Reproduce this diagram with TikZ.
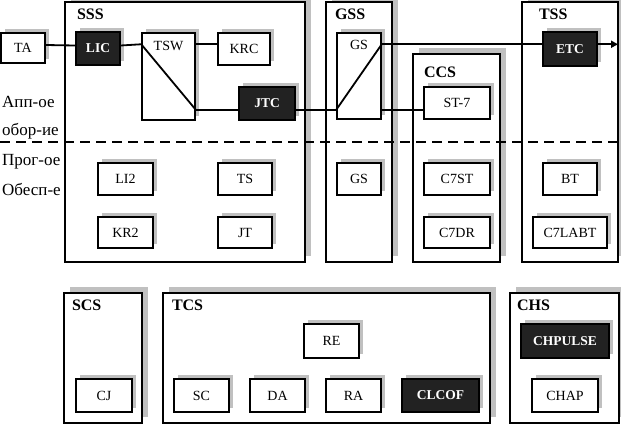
\documentclass[tikz,border=0pt]{standalone}
\usepackage{fontspec}
\setmainfont{Liberation Serif}
\usetikzlibrary{shadows,arrows.meta}
\definecolor{shd}{HTML}{C0C0C0}
\definecolor{blk}{HTML}{222222}
\begin{document}
\begin{tikzpicture}[x=1pt,y=-1pt,
 sz/.style 2 args={minimum width=#1pt, minimum height=#2pt},
 grp/.style={draw=black, line width=2.4pt, fill=white, inner sep=0pt, general shadow={fill=shd, shadow xshift=6pt, shadow yshift=6pt}},
 item/.style={draw=black, line width=1.5pt, fill=white, inner sep=0pt, text depth=0pt, font=\fontsize{14}{16}\selectfont, general shadow={fill=shd, shadow xshift=4pt, shadow yshift=4pt}},
 dark/.style={item, fill=blk, text=white, font=\bfseries\fontsize{13.5}{16}\selectfont},
 title/.style={anchor=north west, inner sep=0pt, text depth=0pt, font=\bfseries\fontsize{16}{18}\selectfont},
 side/.style={anchor=base west, inner sep=0pt, font=\fontsize{17}{19}\selectfont},
 toplbl/.style={anchor=center, inner sep=0pt, text depth=0pt, font=\fontsize{14}{16}\selectfont},
 wire/.style={line width=1.8pt},
]
\useasboundingbox (0,0) rectangle (621,424);
% group boxes
\node[grp, sz={240}{260}] (SSS) at (185,132) {};
\node[grp, sz={66}{260}] (GSS) at (359,132) {};
\node[grp, sz={87}{208}] (CCS) at (456.5,158) {};
\node[grp, sz={96}{260}] (TSS) at (570,132) {};
\node[grp, sz={78}{130}] (SCS) at (103,358) {};
\node[grp, sz={327}{130}] (TCS) at (326.5,358) {};
\node[grp, sz={109}{130}] (CHS) at (564.5,358) {};
% titles
\node[title] (tSSS) at ([xshift=13pt,yshift=-8pt]SSS.north west) {SSS};
\node[title] (tGSS) at ([xshift=10pt,yshift=-8pt]GSS.north west) {GSS};
\node[title] (tCCS) at ([xshift=12pt,yshift=-14pt]CCS.north west) {CCS};
\node[title] (tTSS) at ([xshift=18pt,yshift=-8pt]TSS.north west) {TSS};
\node[title] (tSCS) at ([xshift=9pt,yshift=-8pt]SCS.north west) {SCS};
\node[title] (tTCS) at ([xshift=10pt,yshift=-8pt]TCS.north west) {TCS};
\node[title] (tCHS) at ([xshift=8pt,yshift=-8pt]CHS.north west) {CHS};
% dashed divider
\coordinate (dl) at (0,142);
\coordinate (dr) at (621,142);
\draw[line width=1.5pt, dash pattern=on 10pt off 6pt] (dl) -- (dr);
% side labels
\node[side] (s1) at (2,107) {Апп-ое};
\node[side] (s2) at (2,135) {обор-ие};
\node[side] (s3) at (2,165) {Прог-ое};
\node[side] (s4) at (2,195) {Обесп-е};
% items
\node[item, sz={44}{30}] (TA) at (23,48) {TA};
\node[dark, sz={44}{33}] (LIC) at (98,48.5) {LIC};
\node[item, sz={53}{87}, label={[toplbl, yshift=-13.5pt]north:TSW}] (TSW) at (168.5,76.5) {};
\node[item, sz={52}{32}] (KRC) at (244,49) {KRC};
\node[dark, sz={56}{33}] (JTC) at (267,103.5) {JTC};
\node[item, sz={44}{86}, label={[toplbl, yshift=-13pt]north:GS}] (GSup) at (359,76) {};
\node[item, sz={66}{32}] (ST7) at (457,103) {ST-7};
\node[dark, sz={54}{34}] (ETC) at (570,49) {ETC};
\node[item, sz={55}{32}] (LI2) at (125.5,179) {LI2};
\node[item, sz={54}{32}] (TS) at (245,179) {TS};
\node[item, sz={55}{31}] (KR2) at (125.5,232.5) {KR2};
\node[item, sz={54}{31}] (JT) at (245,232.5) {JT};
\node[item, sz={44}{32}] (GSlo) at (359,179) {GS};
\node[item, sz={66}{32}] (C7ST) at (457,179) {C7ST};
\node[item, sz={66}{31}] (C7DR) at (457,232.5) {C7DR};
\node[item, sz={54}{32}] (BT) at (570,179) {BT};
\node[item, sz={74}{31}] (C7LABT) at (570,232.5) {C7LABT};
\node[item, sz={56}{33}] (CJ) at (104,395.5) {CJ};
\node[item, sz={55}{34}] (RE) at (331.5,341) {RE};
\node[item, sz={55}{33}] (SC) at (201.5,395.5) {SC};
\node[item, sz={55}{33}] (DA) at (277.5,395.5) {DA};
\node[item, sz={55}{33}] (RA) at (353.5,395.5) {RA};
\node[dark, sz={77}{33}] (CLCOF) at (440.5,395.5) {CLCOF};
\node[dark, sz={88}{34}] (CHPULSE) at (565,341) {CHPULSE};
\node[item, sz={66}{33}] (CHAP) at (565,395.5) {CHAP};
% connectors
\coordinate (tin) at ([yshift=-12pt]TSW.north west);
\coordinate (tout) at ([yshift=11pt]TSW.south east);
\coordinate (gin) at ([yshift=10pt]GSup.south west);
\coordinate (gout) at ([yshift=-12pt]GSup.north east);
\coordinate (aend) at (618,0);
\draw[wire] ([yshift=3pt]TA.east) -- ([yshift=3pt]LIC.west);
\draw[wire] ([yshift=3pt]LIC.east) -- (tin);
\draw[wire] (tin) -- (tout);
\draw[wire] (tin -| TSW.east) -- (tin -| KRC.west);
\draw[wire] (tout) -- (tout -| JTC.west);
\draw[wire] (tout -| JTC.east) -- (gin);
\draw[wire] (gin) -- (gout);
\draw[wire] (gout) -- (gout -| ETC.west);
\draw[wire, -{Triangle[length=7pt,width=7pt]}] (gout -| ETC.east) -- (gout -| aend);
\draw[wire] (gin -| GSup.east) -- (gin -| ST7.west);
\end{tikzpicture}
\end{document}
